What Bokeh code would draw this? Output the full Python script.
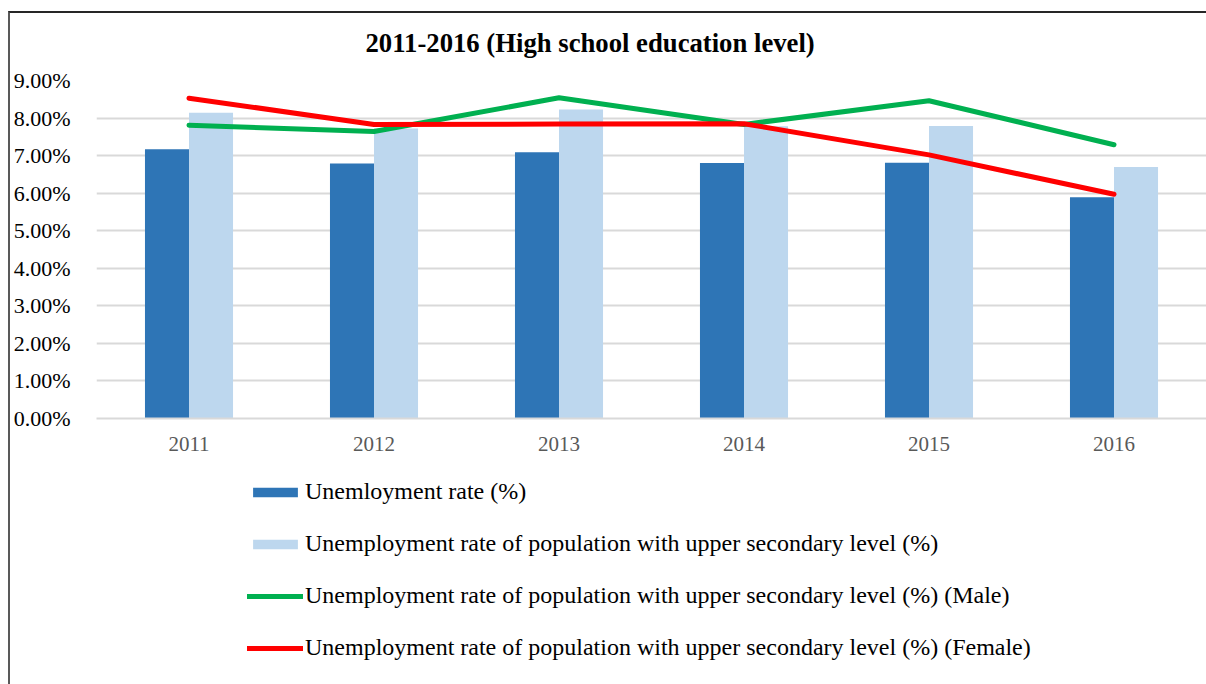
from bokeh.plotting import figure
from bokeh.layouts import column
from bokeh.models import (ColumnDataSource, FixedTicker, PrintfTickFormatter, Legend,
                          LegendItem, Range1d, FactorRange, Label)
from bokeh.transform import dodge
from bokeh.embed import file_html
from bokeh.resources import INLINE

years = ["2011", "2012", "2013", "2014", "2015", "2016"]
unemployment = [7.17, 6.79, 7.09, 6.80, 6.81, 5.89]
upper_secondary = [8.14, 7.72, 8.23, 7.78, 7.79, 6.70]
upper_secondary_male = [7.81, 7.64, 8.54, 7.83, 8.46, 7.29]
upper_secondary_female = [8.53, 7.83, 7.84, 7.85, 7.02, 5.97]
y_ticks = [0, 1, 2, 3, 4, 5, 6, 7, 8, 9]

title_text = "2011-2016 (High school education level)"
labels = [
    "Unemloyment rate (%)",
    "Unemployment rate of population with upper secondary level (%)",
    "Unemployment rate of population with upper secondary level (%) (Male)",
    "Unemployment rate of population with upper secondary level (%) (Female)",
]

FONT = "Liberation Serif"
C_DARK, C_LIGHT, C_GREEN, C_RED = "#2E75B6", "#BDD7EE", "#00B050", "#FF0000"

src = ColumnDataSource(dict(year=years, u=unemployment, us=upper_secondary,
                            m=upper_secondary_male, f=upper_secondary_female))

W = 1196
H_TITLE = 50
H_MAIN = 397
H_LEG = 224


def blank(height):
    f = figure(width=W, height=height, x_range=Range1d(0, 1), y_range=Range1d(0, 1),
               output_backend="svg", toolbar_location=None,
               min_border_left=85, min_border_right=0, min_border_top=0, min_border_bottom=0,
               x_axis_type=None, y_axis_type=None)
    f.outline_line_color = None
    f.grid.visible = False
    f.background_fill_color = "white"
    f.border_fill_color = "white"
    return f


# title strip
pt = blank(H_TITLE)
pt.add_layout(Label(x=269, y=21, x_units="screen", y_units="screen", text=title_text,
                    text_font=FONT, text_font_size="26.7px", text_font_style="bold",
                    text_color="black", text_align="left", text_baseline="middle"))

# main chart
p = figure(width=W, height=H_MAIN, x_range=FactorRange(*years, range_padding=0),
           y_range=Range1d(0, 9), output_backend="svg", toolbar_location=None,
           min_border_left=85, min_border_right=0, min_border_top=17, min_border_bottom=42)
p.outline_line_color = None
p.background_fill_color = "white"
p.border_fill_color = "white"

bw = 0.238
r1 = p.vbar(x=dodge("year", -bw / 2, range=p.x_range), top="u", width=bw, source=src,
            fill_color=C_DARK, line_color=None)
r2 = p.vbar(x=dodge("year", bw / 2, range=p.x_range), top="us", width=bw, source=src,
            fill_color=C_LIGHT, line_color=None)
r3 = p.line(x="year", y="m", source=src, line_color=C_GREEN, line_width=5,
            line_cap="round", line_join="round")
r4 = p.line(x="year", y="f", source=src, line_color=C_RED, line_width=5,
            line_cap="round", line_join="round")

p.yaxis.ticker = FixedTicker(ticks=y_ticks)
p.yaxis.formatter = PrintfTickFormatter(format="%.2f%%")
p.yaxis.axis_line_color = None
p.yaxis.major_tick_line_color = None
p.yaxis.minor_tick_line_color = None
p.yaxis.major_label_text_font = FONT
p.yaxis.major_label_text_font_size = "22px"
p.yaxis.major_label_text_color = "black"
p.yaxis.major_label_standoff = 20

p.xaxis.axis_line_color = "#d9d9d9"
p.xaxis.axis_line_width = 2
p.xaxis.major_tick_line_color = None
p.xaxis.minor_tick_line_color = None
p.xaxis.major_label_text_font = FONT
p.xaxis.major_label_text_font_size = "21px"
p.xaxis.major_label_text_color = "#595959"
p.xaxis.major_label_standoff = 12

p.xgrid.grid_line_color = None
p.ygrid.grid_line_color = "#d9d9d9"
p.ygrid.grid_line_width = 2

# legend strip (own canvas so it is not clipped by the chart frame)
pl = blank(H_LEG)
l1 = pl.vbar(x=[-5], top=[-5], width=0.1, fill_color=C_DARK, line_color=None)
l2 = pl.vbar(x=[-5], top=[-5], width=0.1, fill_color=C_LIGHT, line_color=None)
l3 = pl.line(x=[-5, -4], y=[-5, -5], line_color=C_GREEN, line_width=5, line_cap="round")
l4 = pl.line(x=[-5, -4], y=[-5, -5], line_color=C_RED, line_width=5, line_cap="round")

legend = Legend(items=[LegendItem(label=labels[0], renderers=[l1]),
                       LegendItem(label=labels[1], renderers=[l2]),
                       LegendItem(label=labels[2], renderers=[l3]),
                       LegendItem(label=labels[3], renderers=[l4])],
                location=(151, 22.5), orientation="vertical",
                glyph_width=56, glyph_height=12, label_height=28, spacing=24,
                label_standoff=2, padding=0, margin=0,
                label_text_font=FONT, label_text_font_size="24px",
                label_text_color="black", border_line_color=None,
                background_fill_alpha=0)
pl.add_layout(legend, "center")

layout = column(pt, p, pl, spacing=0)
layout.margin = (11, 0, 0, 8)
layout.styles = {"border-top": "2px solid #262626", "border-left": "2px solid #595959"}

open("out.html", "w").write(file_html(layout, INLINE))
